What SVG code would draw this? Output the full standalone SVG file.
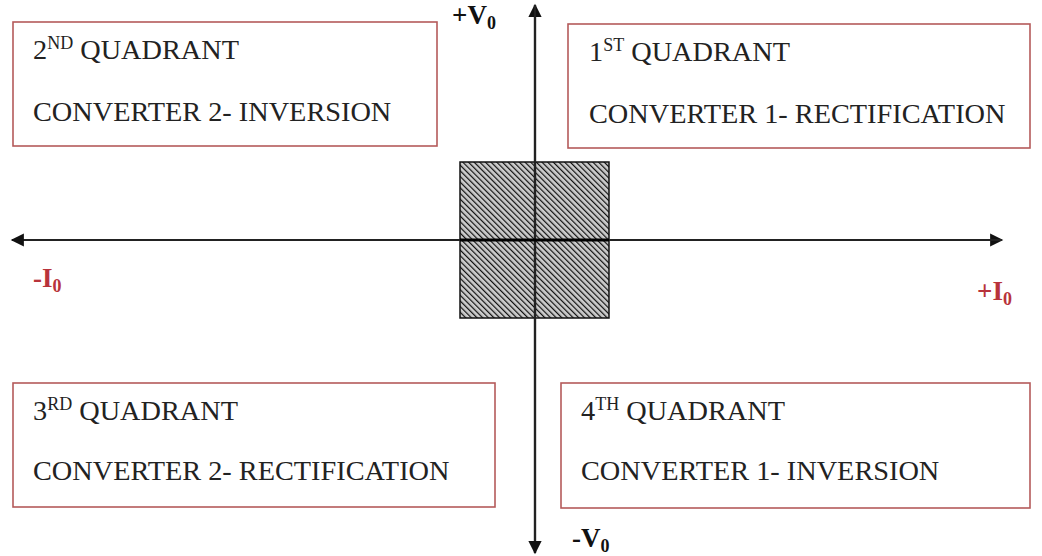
<svg xmlns="http://www.w3.org/2000/svg" width="1042" height="556" viewBox="0 0 1042 556">
<style>
.box{fill:#fff;stroke:#b55a5a;stroke-width:1.6}
.t{font-family:'Liberation Serif','Times New Roman',serif;font-size:28.3px;fill:#222}
.sup{font-size:18px}
.ax{font-family:'Liberation Serif','Times New Roman',serif;font-size:27px;font-weight:bold;fill:#111}
.red{fill:#b8333b}
.sub{font-size:18px}
.axis{stroke:#222;stroke-width:2.2;fill:none}
</style>
<defs>
<marker id="arr" viewBox="0 0 10 10" refX="9" refY="5" markerWidth="7" markerHeight="6" markerUnits="strokeWidth" orient="auto">
<path d="M0,0 L10,5 L0,10 Z" fill="#111"/>
</marker>
<pattern id="hatch" patternUnits="userSpaceOnUse" width="4" height="4" patternTransform="rotate(-45)">
<rect width="4" height="4" fill="#ccc"/>
<line x1="0" y1="0" x2="0" y2="4" stroke="#111" stroke-width="2.4"/>
</pattern>
</defs>
<rect width="1042" height="556" fill="#fff"/>

<g id="hatched-region">
<rect x="460" y="162" width="149" height="156" fill="url(#hatch)" stroke="#111" stroke-width="1.5"/>
</g>

<g id="connectors">
<line class="axis" x1="535" y1="553" x2="535" y2="5" marker-end="url(#arr)"/>
<line class="axis" x1="535" y1="5" x2="535" y2="553" marker-end="url(#arr)"/>
<line class="axis" x1="12" y1="240" x2="1002" y2="240" marker-end="url(#arr)"/>
<line class="axis" x1="1002" y1="240" x2="12" y2="240" marker-end="url(#arr)"/>
<line x1="460" y1="240" x2="609" y2="240" stroke="#000" stroke-width="3"/>
</g>

<g id="q2">
<rect class="box" x="13" y="22" width="424" height="124"/>
<text class="t" x="33" y="59">2<tspan class="sup" dy="-10">ND</tspan><tspan dy="10"> QUADRANT</tspan></text>
<text class="t" x="33" y="121">CONVERTER 2- INVERSION</text>
</g>

<g id="q1">
<rect class="box" x="568" y="24" width="462" height="124"/>
<text class="t" x="589" y="61">1<tspan class="sup" dy="-10">ST</tspan><tspan dy="10"> QUADRANT</tspan></text>
<text class="t" x="589" y="123">CONVERTER 1- RECTIFICATION</text>
</g>

<g id="q3">
<rect class="box" x="13" y="383" width="482" height="124"/>
<text class="t" x="33" y="420">3<tspan class="sup" dy="-10">RD</tspan><tspan dy="10"> QUADRANT</tspan></text>
<text class="t" x="33" y="480">CONVERTER 2- RECTIFICATION</text>
</g>

<g id="q4">
<rect class="box" x="561" y="383" width="469" height="125"/>
<text class="t" x="581" y="420">4<tspan class="sup" dy="-10">TH</tspan><tspan dy="10"> QUADRANT</tspan></text>
<text class="t" x="581" y="480">CONVERTER 1- INVERSION</text>
</g>

<g id="labels">
<text class="ax" x="452" y="24">+V<tspan class="sub" dy="5">0</tspan></text>
<text class="ax" x="572" y="547">-V<tspan class="sub" dy="5">0</tspan></text>
<text class="ax red" x="33" y="287">-I<tspan class="sub" dy="5">0</tspan></text>
<text class="ax red" x="977" y="300">+I<tspan class="sub" dy="5">0</tspan></text>
</g>
</svg>
